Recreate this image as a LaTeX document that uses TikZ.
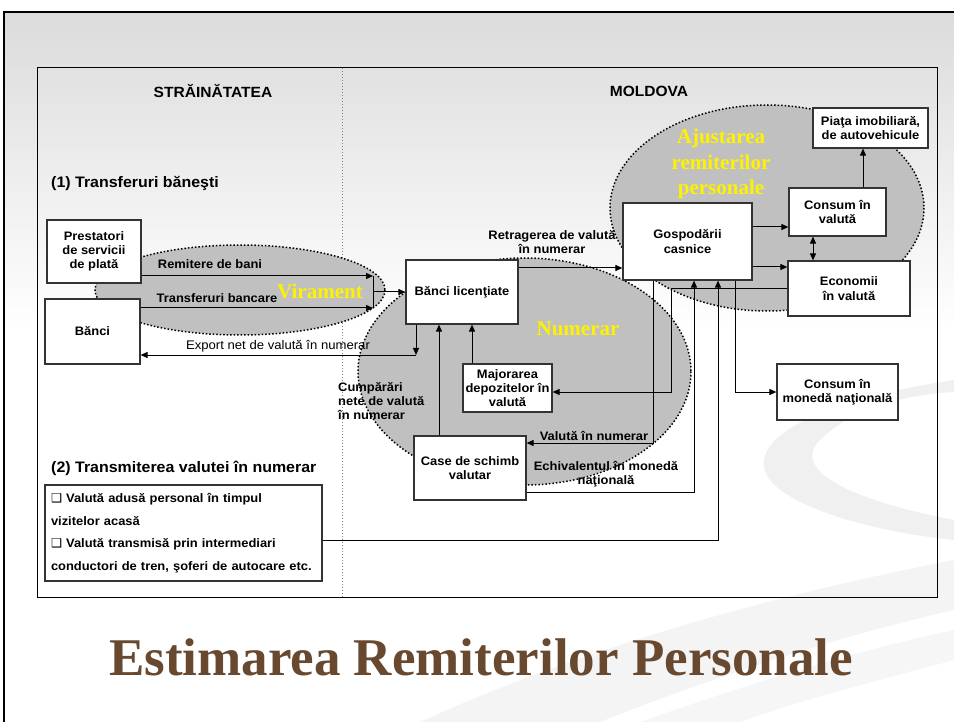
\documentclass[tikz,border=0pt]{standalone}
\usepackage{fontspec}
\setmainfont[FakeStretch=1.05]{Liberation Sans}
\newfontfamily\serifbf{Liberation Serif}
\newfontfamily\symfont{DejaVu Sans}
\usetikzlibrary{arrows.meta}
\definecolor{titlebrown}{RGB}{104,72,46}
\definecolor{ovalgray}{RGB}{192,192,192}
\definecolor{boxline}{RGB}{51,51,51}
\tikzset{
  box/.style={draw=boxline, line width=1.2pt, fill=white, align=center, inner sep=2pt,
    font=\bfseries\fontsize{12.3}{14.3}\selectfont},
  oval/.style={draw=black, fill=ovalgray, line width=1.5pt, dotted},
  lbl/.style={font=\bfseries\fontsize{12.3}{14.3}\selectfont, align=center, inner sep=0pt},
  yel/.style={text=yellow, font=\serifbf\bfseries\fontsize{21}{25}\selectfont, align=center, inner sep=0pt},
  flow/.style={line width=1pt},
  arr/.style={line width=1pt, -{Triangle[length=7pt,width=6pt]}},
  twoarr/.style={line width=1pt, {Triangle[length=7pt,width=6pt]}-{Triangle[length=7pt,width=6pt]}}
}

\begin{document}
\begin{tikzpicture}[x=1pt,y=-1pt]
		%%%%% START %%%%%
		\useasboundingbox (0,0) rectangle (954,722);
		\fill[white] (0,0) rectangle (954,722);
		\shade[top color=gray!28, bottom color=white] (5,12) rectangle (954,330);
		
		% swooshes
		\fill[gray!9] (420,722) .. controls (600,640) and (800,590) .. (954,560) -- (954,610) .. controls (820,640) and (680,690) .. (600,722) -- cycle;
		\fill[gray!12] (954,380) .. controls (820,400) and (740,440) .. (770,480) .. controls (790,505) and (860,530) .. (954,540) -- (954,520) .. controls (850,500) and (790,470) .. (820,440) .. controls (850,410) and (900,395) .. (954,392) -- cycle;
		\fill[gray!7] (640,722) .. controls (760,680) and (860,650) .. (954,630) -- (954,660) .. controls (880,680) and (800,700) .. (740,722) -- cycle;
		
		% frame
		\draw[line width=2.5pt] (4,722) -- (4,12) -- (954,12);
		\draw[line width=1pt] (37,68) rectangle (937,597);
		\draw[gray, line width=1pt, dotted] (342,68) -- (342,597);
		
		\node[lbl, font=\bfseries\fontsize{14.8}{16}\selectfont] (strain) at (213,91) {STRĂINĂTATEA};
		\node[lbl, font=\bfseries\fontsize{14.8}{16}\selectfont] (moldova) at (649,91) {MOLDOVA};
		\node[lbl, anchor=west, font=\bfseries\fontsize{15.2}{17}\selectfont] (head1) at (51,183) {(1) Transferuri băneşti};
		\node[lbl, anchor=west, font=\bfseries\fontsize{15.2}{17}\selectfont] (head2) at (51,468) {(2) Transmiterea valutei în numerar};
		
		% ovals
		\draw[oval] (767,208) ellipse (157 and 103);
		\draw[oval] (524.5,371.5) ellipse (166.5 and 113.5);
		\draw[oval] (240,290) ellipse (145 and 45);
		
		\node[yel] (virament) at (320,291) {Virament};
		\node[yel] (numerar) at (578,329) {Numerar};
		\node[yel, font=\serifbf\bfseries\fontsize{21}{25.5}\selectfont] (ajust) at (721,164) {Ajustarea\\remiterilor\\personale};
		
		% boxes
		\node[box, minimum width=94, minimum height=63] (prest) at (94,251.5) {Prestatori\\de servicii\\de plată};
		\node[box, minimum width=95, minimum height=65] (banci) at (92.5,331.5) {Bănci};
		\node[box, minimum width=112, minimum height=64] (blic) at (462,292) {Bănci licenţiate};
		\node[box, minimum width=89, minimum height=48] (maj) at (507.5,388) {Majorarea\\depozitelor în\\valută};
		\node[box, minimum width=112, minimum height=64] (case) at (470,468) {Case de schimb\\valutar};
		\node[box, minimum width=129, minimum height=77] (gosp) at (687.5,241.5) {Gospodării\\casnice};
		\node[box, minimum width=97, minimum height=48] (cval) at (837.5,212) {Consum în\\valută};
		\node[box, minimum width=122, minimum height=55] (econ) at (849,288.5) {Economii\\în valută};
		\node[box, minimum width=115, minimum height=40] (piata) at (870.5,128) {Piaţa imobiliară,\\de autovehicule};
		\node[box, minimum width=121, minimum height=56] (cnat) at (837.5,392) {Consum în\\monedă naţională};
		\node[box, minimum width=277, minimum height=96, text width=265, align=left, inner sep=6pt,
		  font=\bfseries\fontsize{12.3}{22.6}\selectfont] (trans) at (183.5,533)
		  {{\symfont\mdseries ❑} Valută adusă personal în timpul\\vizitelor acasă\\{\symfont\mdseries ❑} Valută transmisă prin intermediari\\conductori de tren, şoferi de autocare etc.};
		
		% columns and rows
		\coordinate (vtop) at (373,276);
		\coordinate (vbot) at (373,308);
		\coordinate (expc) at (416,355);
		\coordinate (retr) at (570,268);
		\coordinate (cmaj) at (472,0);
		\coordinate (ccase) at (439,0);
		\coordinate (rgc) at (0,227);
		\coordinate (rge) at (0,267);
		\coordinate (ccv) at (813,0);
		\coordinate (cpi) at (863,0);
		\coordinate (emaj) at (671,392);
		\coordinate (gc) at (653,443);
		\coordinate (cg) at (694,492);
		\coordinate (tg) at (718,540);
		\coordinate (gn) at (735,392);
		
		% connectors
		\draw[arr] (prest.east |- vtop) -- (vtop);
		\draw[arr] (banci.east |- vbot) -- (vbot);
		\draw[flow] (vtop) -- (vbot);
		\draw[arr] (vtop |- blic.west) -- (blic.west);
		\draw[arr] (blic.south -| expc) -- (expc);
		\draw[arr] (expc) -- (banci.east |- expc);
		\draw[arr] (blic.east |- retr) -- (gosp.west |- retr);
		\draw[arr] (maj.north -| cmaj) -- (blic.south -| cmaj);
		\draw[arr] (case.north -| ccase) -- (blic.south -| ccase);
		\draw[arr] (gosp.east |- rgc) -- (cval.west |- rgc);
		\draw[arr] (gosp.east |- rge) -- (econ.west |- rge);
		\draw[twoarr] (cval.south -| ccv) -- (econ.north -| ccv);
		\draw[arr] (cval.north -| cpi) -- (piata.south -| cpi);
		\draw[arr] (econ.west) -| (emaj) -- (maj.east |- emaj);
		\draw[arr] (gosp.south -| gc) -- (gc) -- (case.east |- gc);
		\draw[arr] (case.east |- cg) -- (cg) -- (gosp.south -| cg);
		\draw[arr] (trans.east |- tg) -- (tg) -- (gosp.south -| tg);
		\draw[arr] (gosp.south -| gn) -- (gn) -- (cnat.west);
		
		% labels
		\node[lbl] (lremit) at (210,264) {Remitere de bani};
		\node[lbl] (ltransf) at (217,298) {Transferuri bancare};
		\node[lbl, font=\fontsize{12.5}{14}\selectfont] (lexport) at (278,346) {Export net de valută în numerar};
		\node[lbl] (lretr) at (552,242) {Retragerea de valută\\în numerar};
		\node[lbl, anchor=west, align=left] (lcump) at (338,401) {Cumpărări\\nete de valută\\în numerar};
		\node[lbl] (lvnum) at (594,436) {Valută în numerar};
		\node[lbl] (lechiv) at (606,474) {Echivalentul în monedă\\naţională};
		
		% title
		\node[anchor=base, text=titlebrown, font=\serifbf\bfseries\fontsize{53}{60}\selectfont] (title) at (481,675) {Estimarea Remiterilor Personale};
		%%%%% END %%%%%
	\end{tikzpicture}
\end{document}
